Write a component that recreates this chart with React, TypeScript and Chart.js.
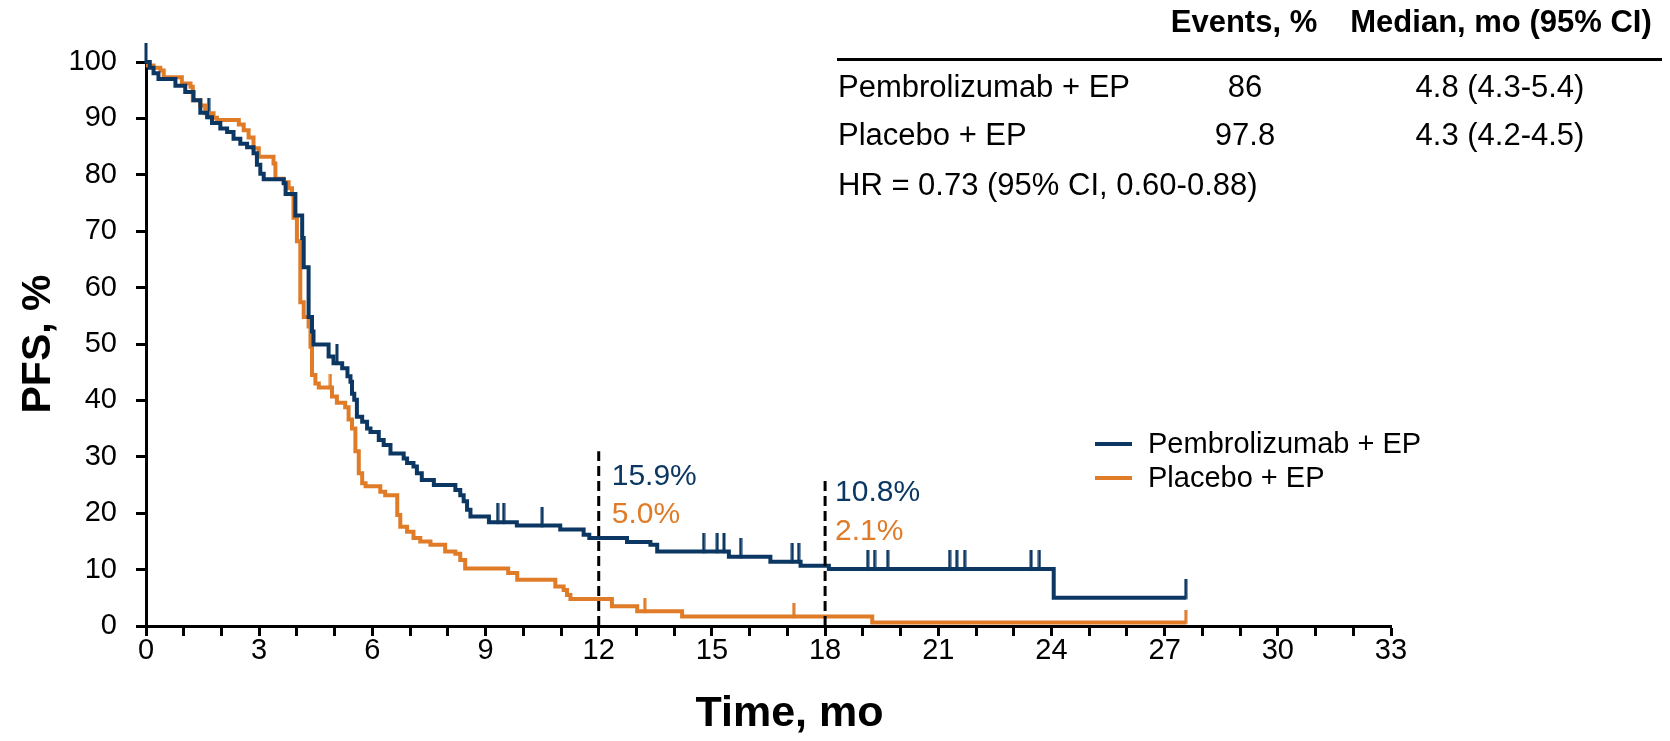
import React, { useEffect, useRef } from 'react';
import { Chart, registerables } from 'chart.js';

Chart.register(...registerables);

const FONT = '"Liberation Sans", Arial, Helvetica, sans-serif';
const BLUE = '#0B3762';
const ORANGE = '#E07B28';
const BLACK = '#000000';

// Pembrolizumab + EP Kaplan-Meier steps (time in months, PFS %)
const pembroTimes = [0, 0.1, 0.2, 0.33, 0.78, 1.04, 1.26, 1.44, 1.62, 1.75, 1.97, 2.15, 2.32, 2.5, 2.68, 2.85, 2.94, 3.03, 3.12, 3.65, 3.7, 3.96, 4.14, 4.18, 4.31, 4.4, 4.44, 4.84, 4.97, 5.2, 5.34, 5.42, 5.46, 5.52, 5.59, 5.73, 5.86, 5.95, 6.17, 6.3, 6.48, 6.83, 6.92, 7.09, 7.18, 7.31, 7.63, 8.2, 8.33, 8.42, 8.51, 8.6, 9.09, 9.83, 10.98, 11.6, 11.75, 12.75, 13.37, 13.55, 15.45, 16.55, 17.35, 18.1, 24.06, 27.56];
const pembroPFS = [100, 99.0, 98.0, 97.0, 95.8, 94.7, 93.2, 91.0, 90.2, 89.2, 88.2, 87.6, 86.4, 85.5, 84.9, 83.8, 81.8, 80.2, 79.2, 78.5, 76.6, 72.8, 68.8, 63.6, 54.8, 52.2, 49.9, 47.8, 46.6, 45.7, 44.3, 43.3, 41.2, 40.1, 37.1, 36.2, 35.0, 34.4, 33.0, 32.1, 30.6, 29.7, 28.9, 28.3, 27.1, 25.9, 25.0, 24.1, 23.2, 22.1, 20.6, 19.4, 18.4, 17.8, 17.1, 16.2, 15.6, 14.9, 14.4, 13.2, 12.3, 11.4, 10.7, 10.1, 5.0, 5.0];

// Placebo + EP Kaplan-Meier steps
const placeboTimes = [0, 0.05, 0.2, 0.38, 0.47, 0.95, 1.18, 1.24, 1.44, 1.57, 1.79, 1.88, 2.46, 2.59, 2.72, 2.85, 2.99, 3.38, 3.43, 3.65, 3.78, 3.87, 3.91, 4.0, 4.09, 4.18, 4.31, 4.36, 4.4, 4.49, 4.58, 4.93, 5.06, 5.28, 5.37, 5.46, 5.55, 5.64, 5.73, 5.82, 6.21, 6.34, 6.66, 6.74, 6.92, 7.09, 7.27, 7.54, 7.93, 8.2, 8.33, 8.46, 9.6, 9.84, 10.85, 11.07, 11.16, 11.25, 12.35, 13.02, 14.21, 19.25, 27.56];
const placeboPFS = [100, 99.4, 99.0, 98.5, 97.3, 96.2, 95.6, 93.2, 92.3, 90.9, 90.1, 89.7, 88.9, 87.9, 86.6, 84.7, 83.2, 82.0, 79.3, 78.7, 77.6, 76.5, 72.4, 68.2, 57.4, 54.8, 53.1, 49.5, 44.5, 43.0, 42.3, 40.7, 39.6, 38.8, 36.6, 35.0, 31.0, 27.1, 25.3, 24.8, 23.8, 23.2, 19.7, 17.6, 16.7, 15.6, 15.0, 14.4, 13.2, 12.8, 11.7, 10.2, 9.4, 8.2, 7.0, 6.4, 5.5, 4.8, 3.5, 2.6, 1.7, 0.6, 0.6];

// Censoring marks
const pembroCensorTimes = [0, 1.66, 5.06, 9.32, 9.48, 10.5, 14.78, 15.14, 15.32, 15.76, 17.13, 17.3, 19.13, 19.31, 19.66, 21.3, 21.49, 21.7, 23.46, 23.68, 27.56];
const pembroCensorPFS = [100, 90.2, 46.6, 18.4, 18.4, 17.8, 13.2, 13.2, 13.2, 12.3, 11.4, 11.4, 10.1, 10.1, 10.1, 10.1, 10.1, 10.1, 10.1, 10.1, 5.0];
const placeboCensorTimes = [4.89, 13.22, 17.17, 27.56];
const placeboCensorPFS = [42.3, 2.6, 1.7, 0.6];

// Landmark lines and labels
const landmarkTimes = [12, 18];
const landmarkTops = [31, 26];
const landmarkPembroLabels = ['15.9%', '10.8%'];
const landmarkPlaceboLabels = ['5.0%', '2.1%'];
const landmarkPembroLabelY = [26.4, 23.6];
const landmarkPlaceboLabelY = [19.7, 16.7];

// Legend / table / axis text
const seriesNames = ['Pembrolizumab + EP', 'Placebo + EP'];
const tableHeaders = ['Events, %', 'Median, mo (95% CI)'];
const eventsPct = ['86', '97.8'];
const medianCI = ['4.8 (4.3-5.4)', '4.3 (4.2-4.5)'];
const hrText = 'HR = 0.73 (95% CI, 0.60-0.88)';
const xTitle = 'Time, mo';
const yTitle = 'PFS, %';

const xMin = 0;
const xMax = 33;
const xLabelStep = 3;
const yMin = 0;
const yMax = 100;
const yStep = 10;

const toPoints = (xs: number[], ys: number[]) => xs.map((x, i) => ({ x, y: ys[i] }));

function makeTick(color: string, len: number): HTMLCanvasElement {
  const c = document.createElement('canvas');
  c.width = 4;
  c.height = len * 2;
  const g = c.getContext('2d')!;
  g.fillStyle = color;
  g.fillRect(0.5, 0, 3, len + 1.5);
  return c;
}

const overlayPlugin = {
  id: 'overlay',
  afterDraw(chart: any) {
    const { ctx, scales, chartArea } = chart;
    const xs = scales.x;
    const ys = scales.y;
    ctx.save();
    // x axis title
    ctx.fillStyle = BLACK;
    ctx.font = `bold 43px ${FONT}`;
    ctx.textAlign = 'center';
    ctx.textBaseline = 'middle';
    ctx.fillText(xTitle, (chartArea.left + chartArea.right) / 2 + 21, 714);

    // landmark annotations
    ctx.font = `30px ${FONT}`;
    ctx.textAlign = 'left';
    ctx.textBaseline = 'middle';
    landmarkTimes.forEach((t: number, i: number) => {
      const px = xs.getPixelForValue(t) + (i === 0 ? 13 : 10);
      ctx.fillStyle = BLUE;
      ctx.fillText(landmarkPembroLabels[i], px, ys.getPixelForValue(landmarkPembroLabelY[i]));
      ctx.fillStyle = ORANGE;
      ctx.fillText(landmarkPlaceboLabels[i], px, ys.getPixelForValue(landmarkPlaceboLabelY[i]));
    });

    // legend
    const legendColors = [BLUE, ORANGE];
    const legendY = [444, 478];
    ctx.font = `29px ${FONT}`;
    seriesNames.forEach((name, i) => {
      ctx.strokeStyle = legendColors[i];
      ctx.lineWidth = 4;
      ctx.beginPath();
      ctx.moveTo(1095, legendY[i]);
      ctx.lineTo(1132, legendY[i]);
      ctx.stroke();
      ctx.fillStyle = BLACK;
      ctx.textAlign = 'left';
      ctx.fillText(name, 1148, legendY[i] + 1);
    });

    // table
    ctx.fillStyle = BLACK;
    ctx.textBaseline = 'alphabetic';
    ctx.font = `bold 31px ${FONT}`;
    ctx.textAlign = 'center';
    ctx.fillText(tableHeaders[0], 1244, 32);
    ctx.fillText(tableHeaders[1], 1501, 32);
    ctx.strokeStyle = BLACK;
    ctx.lineWidth = 3;
    ctx.beginPath();
    ctx.moveTo(837, 59.5);
    ctx.lineTo(1662, 59.5);
    ctx.stroke();
    ctx.font = `31px ${FONT}`;
    const rowBase = [97, 145];
    seriesNames.forEach((name, i) => {
      ctx.textAlign = 'left';
      ctx.fillText(name, 838, rowBase[i]);
      ctx.textAlign = 'center';
      ctx.fillText(eventsPct[i], 1245, rowBase[i]);
      ctx.fillText(medianCI[i], 1500, rowBase[i]);
    });
    ctx.textAlign = 'left';
    ctx.fillText(hrText, 838, 195);
    ctx.restore();
  },
};

export default function App() {
  const ref = useRef<HTMLCanvasElement | null>(null);
  useEffect(() => {
    if (!ref.current) return;
    const blueTick = makeTick(BLUE, 19);
    const orangeTick = makeTick(ORANGE, 13);
    const lineBase = {
      stepped: 'before' as const,
      pointRadius: 0,
      borderWidth: 4,
      fill: false,
      tension: 0,
      clip: false as any,
    };
    const datasets: any[] = [
      ...landmarkTimes.map((t, i) => ({
        label: `landmark${i}`,
        data: [{ x: t, y: 0 }, { x: t, y: landmarkTops[i] }],
        borderColor: BLACK,
        borderWidth: 3,
        borderDash: [10, 5],
        pointRadius: 0,
        fill: false,
        clip: false,
      })),
      { ...lineBase, label: seriesNames[0], data: toPoints(pembroTimes, pembroPFS), borderColor: BLUE },
      { ...lineBase, label: seriesNames[1], data: toPoints(placeboTimes, placeboPFS), borderColor: ORANGE },
      {
        label: 'pembroCensor',
        data: toPoints(pembroCensorTimes, pembroCensorPFS),
        showLine: false,
        pointStyle: blueTick,
        pointRadius: 10,
        clip: false,
      },
      {
        label: 'placeboCensor',
        data: toPoints(placeboCensorTimes, placeboCensorPFS),
        showLine: false,
        pointStyle: orangeTick,
        pointRadius: 10,
        clip: false,
      },
    ];

    const chart = new Chart(ref.current, {
      type: 'line',
      data: { datasets },
      plugins: [overlayPlugin],
      options: {
        animation: false,
        responsive: false,
        maintainAspectRatio: false,
        events: [],
        layout: { padding: { top: 62, right: 279, left: 0, bottom: 0 } },
        plugins: { legend: { display: false }, tooltip: { enabled: false }, title: { display: false } },
        scales: {
          x: {
            type: 'linear',
            min: xMin,
            max: xMax,
            afterFit: (s: any) => { s.height = 115; },
            border: { display: true, color: BLACK, width: 3 },
            grid: { drawOnChartArea: false, drawTicks: true, tickLength: 10, tickWidth: 3, tickColor: BLACK },
            ticks: {
              stepSize: 1,
              autoSkip: false,
              maxRotation: 0,
              padding: -2,
              color: BLACK,
              font: { family: FONT, size: 29 },
              callback: (v: any) => (Number(v) % xLabelStep === 0 ? String(v) : ''),
            },
            title: { display: false },
          },
          y: {
            type: 'linear',
            min: yMin,
            max: yMax,
            afterFit: (s: any) => { s.width = 146; },
            border: { display: true, color: BLACK, width: 3 },
            grid: { drawOnChartArea: false, drawTicks: true, tickLength: 10, tickWidth: 3, tickColor: BLACK },
            ticks: {
              stepSize: yStep,
              padding: 19,
              color: BLACK,
              font: { family: FONT, size: 29 },
            },
            title: {
              display: true,
              text: yTitle,
              color: BLACK,
              font: { family: FONT, size: 41, weight: 'bold', lineHeight: 1.1 },
              padding: { top: 16, bottom: 0 },
            },
          },
        },
      } as any,
    });
    return () => chart.destroy();
  }, []);

  return (
    <div style={{ position: 'fixed', left: 0, top: 0, width: 1670, height: 741, background: '#fff' }}>
      <canvas ref={ref} width={1670} height={741} style={{ width: 1670, height: 741, display: 'block' }} />
    </div>
  );
}
